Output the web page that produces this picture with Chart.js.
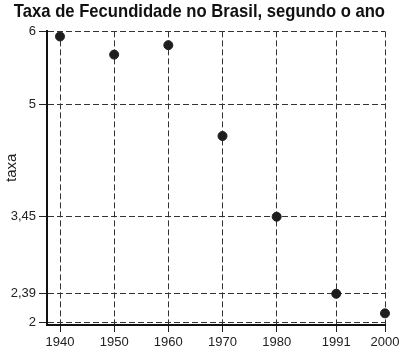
<!DOCTYPE html>
<html>
<head>
<meta charset="utf-8">
<script src="https://cdn.jsdelivr.net/npm/chart.js@4"></script>
<style>
  html, body { margin: 0; padding: 0; background: #fff; }
  #wrap { width: 405px; height: 355px; }
</style>
</head>
<body>
<div id="wrap"><canvas id="fecundChart" width="405" height="355"></canvas></div>
<script>
const anos = [1940, 1950, 1960, 1970, 1980, 1991, 2000];
const taxas = [5.93, 5.68, 5.81, 4.56, 3.45, 2.39, 2.12];
const yTicks = [2, 2.39, 3.45, 5, 6];

const points = anos.map((ano, i) => ({ x: ano, y: taxas[i] }));

const ctx = document.getElementById('fecundChart').getContext('2d');
const chart = new Chart(ctx, {
    type: 'scatter',
    data: {
        datasets: [{
            data: points,
            backgroundColor: '#1e1e1e',
            borderColor: '#1e1e1e',
            pointRadius: 4.5,
            pointHoverRadius: 4.5,
            clip: false
        }]
    },
    options: {
        responsive: false,
        animation: false,
        layout: {
            padding: { left: 0, right: 20, top: 0, bottom: 0 }
        },
        plugins: {
            legend: { display: false },
            tooltip: { enabled: false },
            title: {
                display: true,
                // leading spaces move the centred title a bit to the right
                text: '   Taxa de Fecundidade no Brasil, segundo o ano',
                color: '#111',
                font: { size: 17.8, weight: 'bold', family: 'Liberation Sans' },
                padding: { top: 1, bottom: 9 }
            }
        },
        scales: {
            x: {
                type: 'linear',
                min: 1937.6,
                max: 2000,
                afterBuildTicks: scale => {
                    scale.ticks = anos.map(v => ({ value: v }));
                },
                afterFit: scale => { scale.height = 30; },
                ticks: {
                    color: '#222',
                    font: { size: 13, family: 'Liberation Sans' },
                    padding: 3,
                    maxRotation: 0,
                    callback: v => String(v)
                },
                grid: {
                    color: '#333',
                    lineWidth: 1,
                    tickLength: 7,
                    tickColor: '#222',
                    tickBorderDash: []
                },
                border: {
                    display: true,
                    color: '#111',
                    width: 2,
                    dash: [6, 3]
                }
            },
            y: {
                type: 'linear',
                min: 1.96,
                max: 6,
                afterBuildTicks: scale => {
                    scale.ticks = yTicks.map(v => ({ value: v }));
                },
                afterFit: scale => { scale.width = 47; },
                ticks: {
                    color: '#222',
                    font: { size: 13, family: 'Liberation Sans' },
                    padding: 3,
                    callback: v => String(v).replace('.', ',')
                },
                title: {
                    display: true,
                    // leading spaces nudge the word up a little, as in the original
                    text: '     taxa',
                    color: '#222',
                    font: { size: 15, family: 'Liberation Sans' },
                    padding: { top: 3, bottom: 0 }
                },
                grid: {
                    color: '#333',
                    lineWidth: 1,
                    tickLength: 8,
                    tickColor: '#222',
                    tickBorderDash: []
                },
                border: {
                    display: true,
                    color: '#111',
                    width: 2,
                    dash: [6, 3]
                }
            }
        }
    }
});
</script>
</body>
</html>
